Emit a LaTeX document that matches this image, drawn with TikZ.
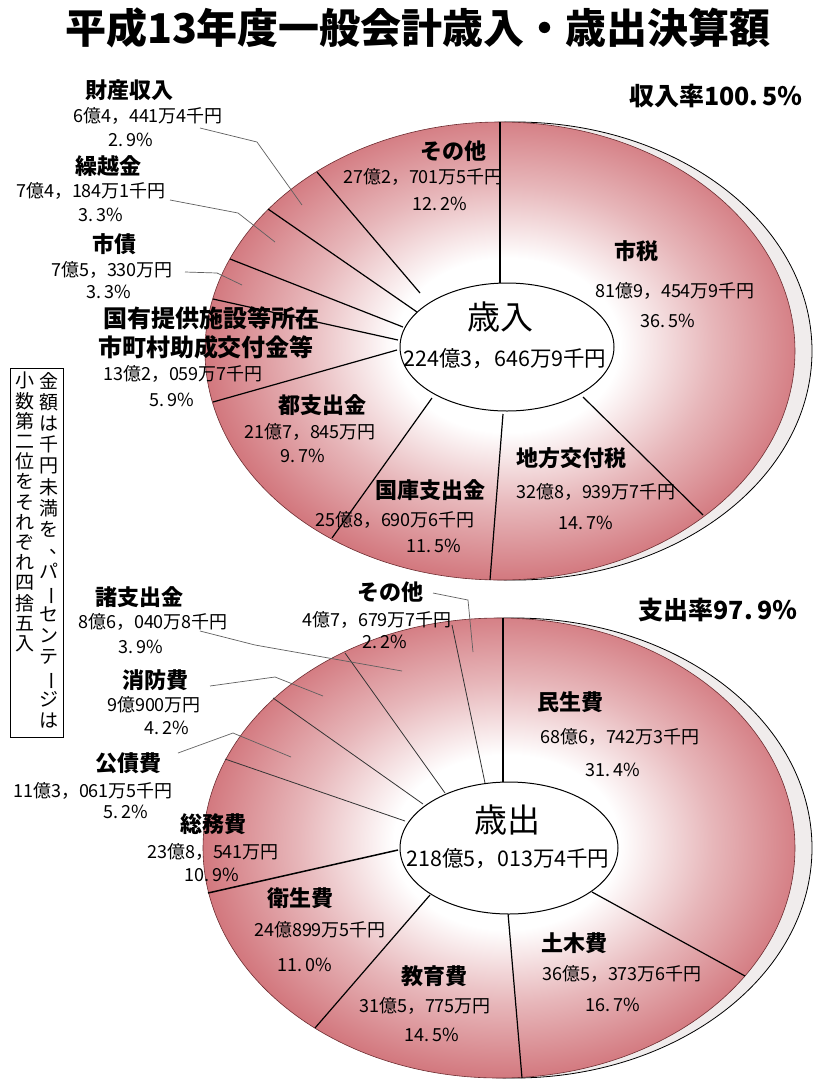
\documentclass[tikz,border=0pt]{standalone}
\usepackage{fontspec}
\usepackage{graphicx}
\setmainfont{Noto Sans CJK JP}
\usetikzlibrary{shapes.geometric}
\definecolor{piered}{RGB}{198,82,90}
\colorlet{pielight}{piered!42!white}
\colorlet{piemid}{piered!80!white}
\definecolor{shadowfill}{RGB}{240,236,236}
\definecolor{leadergray}{RGB}{95,95,95}
\pgfdeclareradialshading{pieshade}{\pgfpoint{0.7bp}{0.7bp}}{color(0bp)=(white); color(9.5bp)=(white); color(17.5bp)=(pielight); color(26bp)=(piemid); color(34bp)=(piered); color(100bp)=(piered)}
\newcommand{\jvbar}{\rotatebox[origin=c]{-90}{ー}}
\newcommand{\jvcomma}{\makebox[1em][l]{\hspace{0.55em}\smash{\raisebox{0.25em}{、}}}}
\tikzset{
  lbl/.style={inner sep=0pt, font=\bfseries\fontsize{22}{22}\selectfont},
  lblwide/.style={inner sep=0pt, font=\bfseries\fontsize{24}{24}\selectfont},
  num/.style={inner sep=0pt, font=\fontsize{18}{18}\selectfont},
  cenlbl/.style={inner sep=0pt, font=\fontsize{33}{33}\selectfont},
  cennum/.style={inner sep=0pt, font=\fontsize{21.5}{22}\selectfont},
  ratelbl/.style={inner sep=0pt, font=\bfseries\fontsize{25}{25}\selectfont},
  titlelbl/.style={inner sep=0pt, font=\bfseries\fontsize{41}{41}\selectfont},
  vtext/.style={inner sep=0pt, anchor=north, align=center},
  spoke/.style={draw=black, line width=1.2pt},
  thinspoke/.style={draw=black!80, line width=0.8pt},
  thickspoke/.style={draw=black, line width=1.5pt},
  leader/.style={draw=leadergray, line width=0.7pt},
  shadowring/.style={fill=shadowfill, draw=black, line width=0.8pt},
  pieedge/.style={draw=piered!55!black, line width=0.6pt},
  hub/.style={shape=ellipse, draw=black, line width=1pt, fill=white, inner sep=0pt},
  notebox/.style={draw=black, line width=0.9pt, inner sep=0pt},
}
\begin{document}
\begin{tikzpicture}[x=1pt,y=-1pt]
\useasboundingbox (0,0) rectangle (815,1088);
\fill[white] (0,0) rectangle (815,1088);

\node[titlelbl] (title) at (418,28) {平成13年度一般会計歳入・歳出決算額};

% ---------- top pie (revenue) ----------
\coordinate (p1) at (500,351);
\coordinate (s1) at (515,351);
\path[shadowring] (s1) ellipse [x radius=297pt, y radius=229pt];
\shade[shading=pieshade] (p1) ellipse [x radius=295pt, y radius=229pt];
\path[pieedge] (p1) ellipse [x radius=295pt, y radius=229pt];

\coordinate (t1i) at (500,284); \coordinate (t1o) at (500,122);
\coordinate (t2i) at (583,397); \coordinate (t2o) at (703,515);
\coordinate (t3i) at (503,414); \coordinate (t3o) at (490,580);
\coordinate (t4i) at (432,398); \coordinate (t4o) at (332,538);
\coordinate (t5i) at (397,350); \coordinate (t5o) at (213,402);
\coordinate (t6i) at (398,340); \coordinate (t6o) at (213,299);
\coordinate (t7i) at (403,327); \coordinate (t7o) at (230,259);
\coordinate (t8i) at (417,312); \coordinate (t8o) at (268,209);
\coordinate (t9i) at (420,293); \coordinate (t9o) at (317,172);
\foreach \k in {1,...,9}{\draw[spoke] (t\k i) -- (t\k o);}

\node[hub, minimum width=214pt, minimum height=128pt] (hub1) at (507,347) {};

\coordinate (l1a) at (200,128); \coordinate (l1b) at (257,142); \coordinate (l1c) at (302,205);
\coordinate (l2a) at (170,200); \coordinate (l2b) at (238,213); \coordinate (l2c) at (275,242);
\coordinate (l3a) at (185,272); \coordinate (l3b) at (217,273); \coordinate (l3c) at (242,285);
\draw[leader] (l1a) -- (l1b) -- (l1c);
\draw[leader] (l2a) -- (l2b) -- (l2c);
\draw[leader] (l3a) -- (l3b) -- (l3c);

\node[lbl] (zaisan) at (129,90) {財産収入};
\node[num] (zaisanv) at (148,116) {6億4，441万4千円};
\node[num] (zaisanp) at (131,140) {2.\,9\%};
\node[lbl] (kurikoshi) at (108,166) {繰越金};
\node[num] (kurikoshiv) at (91,191) {7億4，184万1千円};
\node[num] (kurikoship) at (101,215) {3.\,3\%};
\node[lbl] (shisai) at (114,244) {市債};
\node[num] (shisaiv) at (112,270) {7億5，330万円};
\node[num] (shisaip) at (109,292) {3.\,3\%};
\node[lblwide] (kokuyuA) at (211,318) {国有提供施設等所在};
\node[lblwide] (kokuyuB) at (206,347) {市町村助成交付金等};
\node[num] (kokuyuv) at (183,374) {13億2，059万7千円};
\node[num] (kokuyup) at (172,400) {5.\,9\%};
\node[lbl] (sonota1) at (453,151) {その他};
\node[num] (sonota1v) at (423,177) {27億2，701万5千円};
\node[num] (sonota1p) at (440,204) {12.\,2\%};
\node[lbl] (shizei) at (636,251) {市税};
\node[num] (shizeiv) at (675,291) {81億9，454万9千円};
\node[num] (shizeip) at (668,321) {36.\,5\%};
\node[cenlbl] (sainyu) at (500,317) {歳入};
\node[cennum] (sainyuv) at (505,359) {224億3，646万9千円};
\node[lbl] (toshi) at (322,405) {都支出金};
\node[num] (toshiv) at (310,432) {21億7，845万円};
\node[num] (toship) at (303,456) {9.\,7\%};
\node[lbl] (kokko) at (430,490) {国庫支出金};
\node[num] (kokkov) at (395,520) {25億8，690万6千円};
\node[num] (kokkop) at (434,546) {11.\,5\%};
\node[lbl] (chiho) at (571,458) {地方交付税};
\node[num] (chihov) at (596,492) {32億8，939万7千円};
\node[num] (chihop) at (586,523) {14.\,7\%};
\node[ratelbl] (rate1) at (716,96) {収入率100.\,5％};

% ---------- bottom pie (expenditure) ----------
\coordinate (p2) at (499,848);
\coordinate (s2) at (514,848);
\path[shadowring] (s2) ellipse [x radius=298pt, y radius=230pt];
\shade[shading=pieshade] (p2) ellipse [x radius=296pt, y radius=230pt];
\path[pieedge] (p2) ellipse [x radius=296pt, y radius=230pt];

\coordinate (b1i) at (503,783); \coordinate (b1o) at (503,618);
\coordinate (b2i) at (485,783); \coordinate (b2o) at (452,625);
\coordinate (b3i) at (445,793); \coordinate (b3o) at (345,653);
\coordinate (b4i) at (423,804); \coordinate (b4o) at (273,698);
\coordinate (b5i) at (405,821); \coordinate (b5o) at (225,759);
\coordinate (b6i) at (398,850); \coordinate (b6o) at (208,893);
\coordinate (b7i) at (430,895); \coordinate (b7o) at (315,1028);
\coordinate (b8i) at (508,913); \coordinate (b8o) at (522,1078);
\coordinate (b9i) at (592,892); \coordinate (b9o) at (745,976);
\draw[spoke] (b1i) -- (b1o);
\foreach \k in {2,...,5}{\draw[thinspoke] (b\k i) -- (b\k o);}
\draw[thickspoke] (b6i) -- (b6o);
\foreach \k in {7,8,9}{\draw[spoke] (b\k i) -- (b\k o);}

\node[hub, minimum width=218pt, minimum height=132pt] (hub2) at (509,848) {};

\coordinate (m1a) at (433,593); \coordinate (m1b) at (468,600); \coordinate (m1c) at (473,652);
\coordinate (m2a) at (200,631); \coordinate (m2b) at (255,645); \coordinate (m2c) at (402,671);
\coordinate (m3a) at (210,686); \coordinate (m3b) at (275,677); \coordinate (m3c) at (323,696);
\coordinate (m4a) at (178,753); \coordinate (m4b) at (233,733); \coordinate (m4c) at (291,757);
\draw[leader] (m1a) -- (m1b) -- (m1c);
\draw[leader] (m2a) -- (m2b) -- (m2c);
\draw[leader] (m3a) -- (m3b) -- (m3c);
\draw[leader] (m4a) -- (m4b) -- (m4c);

\node[ratelbl] (rate2) at (718,610) {支出率97.\,9％};
\node[lbl] (shoshi) at (139,597) {諸支出金};
\node[num] (shoshiv) at (153,622) {8億6，040万8千円};
\node[num] (shoship) at (141,647) {3.\,9\%};
\node[lbl] (sonota2) at (390,592) {その他};
\node[num] (sonota2v) at (377,620) {4億7，679万7千円};
\node[num] (sonota2p) at (385,642) {2.\,2\%};
\node[lbl] (shobo) at (155,680) {消防費};
\node[num] (shobov) at (154,705) {9億900万円};
\node[num] (shobop) at (167,728) {4.\,2\%};
\node[lbl] (kosai) at (128,763) {公債費};
\node[num] (kosaiv) at (93,791) {11億3，061万5千円};
\node[num] (kosaip) at (126,812) {5.\,2\%};
\node[lbl] (somu) at (213,824) {総務費};
\node[num] (somuv) at (213,852) {23億8，541万円};
\node[num] (somup) at (212,875) {10.\,9\%};
\node[cenlbl] (saishutsu) at (507,820) {歳出};
\node[cennum] (saishutsuv) at (508,859) {218億5，013万4千円};
\node[lbl] (minsei) at (570,702) {民生費};
\node[num] (minseiv) at (620,737) {68億6，742万3千円};
\node[num] (minseip) at (613,770) {31.\,4\%};
\node[lbl] (eisei) at (300,898) {衛生費};
\node[num] (eiseiv) at (320,930) {24億899万5千円};
\node[num] (eiseip) at (305,965) {11.\,0\%};
\node[lbl] (kyoiku) at (434,976) {教育費};
\node[num] (kyoikuv) at (425,1006) {31億5，775万円};
\node[num] (kyoikup) at (432,1035) {14.\,5\%};
\node[lbl] (doboku) at (574,943) {土木費};
\node[num] (dobokuv) at (622,974) {36億5，373万6千円};
\node[num] (dobokup) at (613,1005) {16.\,7\%};

% ---------- vertical note ----------
\node[notebox, minimum width=53pt, minimum height=369pt] (note) at (36.5,552.5) {};
\node[vtext, font=\fontsize{19}{21.2}\selectfont] (noteR) at (49,372)
  {金\\額\\は\\千\\円\\未\\満\\を\\\jvcomma\\パ\\\jvbar\\セ\\ン\\テ\\\jvbar\\ジ\\は};
\node[vtext, font=\fontsize{19}{20.2}\selectfont] (noteL) at (25,372)
  {小\\数\\第\\二\\位\\を\\そ\\れ\\ぞ\\れ\\四\\捨\\五\\入};
\end{tikzpicture}
\end{document}
